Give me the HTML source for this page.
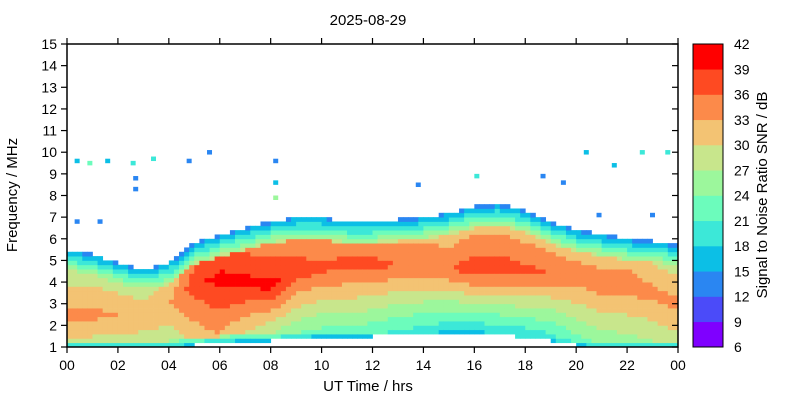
<!DOCTYPE html>
<html><head><meta charset="utf-8"><style>
body{margin:0;background:#fff;font-family:"Liberation Sans",sans-serif}
svg text{font-family:"Liberation Sans",sans-serif;fill:#000}
</style></head><body>
<svg id="c" width="800" height="400">
<text x="368" y="25" font-size="15" text-anchor="middle">2025-08-29</text>
<g id="cells"></g>
<g id="axes"></g>
<g id="cbar"></g>
<text x="368" y="391" font-size="15" text-anchor="middle">UT Time / hrs</text>
<text transform="translate(17,195) rotate(-90)" font-size="15" text-anchor="middle">Frequency / MHz</text>
<text transform="translate(767,195) rotate(-90)" font-size="15" text-anchor="middle">Signal to Noise Ratio SNR / dB</text>
</svg>
<script>
const hours=[0,1,2,3,4,5,6,7,8,9,10,11,12,13,14,15,16,17,18,19,20,21,22,23,24];
const topFreq=[5.5,5.3,4.9,4.6,4.9,5.8,6.2,6.5,6.8,7.0,7.0,6.8,6.8,6.9,7.0,7.2,7.5,7.6,7.3,6.8,6.4,6.2,6.0,5.9,5.7];
const lowFreq=[1,1,1,1,1,1.1,1.2,1.3,1.3,1.4,1.5,1.5,1.5,1.6,1.6,1.7,1.7,1.6,1.4,1.3,1.1,1,1,1,1];
const peakSNR=[34,34,33,32,33,38,40,40,40,38,37,37,37,36,36,36,38,38,37,36,35,35,35,34,34];
const peakFreq=[2.5,2.5,2.5,2.5,3,4,4.2,4,3.8,4.5,4.7,4.8,4.8,4.8,4.8,4.6,4.6,4.6,4.5,4.4,4.3,4,4,3.5,3];
const lowSNR=[28,28,28,28,27,30,32,28,25,23,22,22,21,20,19,18,18,18,18,19,22,24,25,26,28];
const sporadic=[[0.3,9.5,16],[0.8,9.4,22],[1.5,9.5,16],[2.5,9.4,18],[3.3,9.6,20],[4.7,9.5,14],[5.5,9.9,14],[2.6,8.7,14],[2.6,8.2,14],[0.3,6.7,14],[1.2,6.7,14],[8.1,9.5,14],[8.1,8.5,16],[8.1,7.8,24],[13.7,8.4,14],[16.0,8.8,20],[18.6,8.8,14],[20.3,9.9,16],[21.4,9.3,16],[22.5,9.9,20],[23.5,9.9,20],[20.8,7.0,14],[22.9,7.0,14],[19.4,8.5,14]];
const cbTicks=[6,9,12,15,18,21,24,27,30,33,36,39,42];
const cbColors=["#7f00ff","#4b4bf9","#2a86f2","#0cbfe6","#3ce8d8","#6cfcbc","#9cf79c","#c8e68c","#f3c373","#fc8a4a","#fe4a22","#ff0000"];
const X0=67,X1=678,Y0=347,Y1=44;
const xs=t=>X0+(X1-X0)*t/24, ys=f=>Y0-(Y0-Y1)*(f-1)/14;
const NS="http://www.w3.org/2000/svg";
function mk(tag,attrs,parent){const e=document.createElementNS(NS,tag);for(const k in attrs)e.setAttribute(k,attrs[k]);parent.appendChild(e);return e;}
function interp(arr,t){const i=Math.min(23,Math.floor(t));const r=t-i;return arr[i]*(1-r)+arr[i+1]*r;}
function col(v){let i=Math.floor((v-6)/3);i=Math.max(0,Math.min(11,i));return cbColors[i];}
const cells=document.getElementById('cells');
const dt=0.2,df=0.2;
for(let t=0;t<24-1e-9;t+=dt){
  const tc=t+dt/2,top=interp(topFreq,tc),low=interp(lowFreq,tc),pk=interp(peakSNR,tc),pf=interp(peakFreq,tc),ls=interp(lowSNR,tc);
  for(let f=1;f<15-1e-9;f+=df){
    const fc=f+df/2; if(fc>top||fc<low)continue;
    let v;
    if(fc<pf){const r=Math.max(0,(fc-low)/(pf-low));v=ls+(pk-ls)*r;}
    else v=pk-3*(fc-pf);
    if(top-fc<1.0)v=Math.min(v,14+(top-fc)/1.0*14);
    if(fc-low<0.3)v=Math.min(v,17+(fc-low)/0.3*8);
    const r=mk('rect',{x:xs(t).toFixed(2),y:ys(f+df).toFixed(2),width:(xs(dt)-X0+0.4).toFixed(2),height:(ys(1)-ys(1+df)+0.4).toFixed(2),fill:col(v)},cells);
    
    
  }
}
sporadic.forEach(p=>{const r=mk('rect',{x:xs(p[0]).toFixed(2),y:ys(p[1]+df).toFixed(2),width:5,height:4.5,fill:col(p[2])},cells);
  
  });
const ax=document.getElementById('axes');
mk('rect',{x:X0,y:Y1,width:X1-X0,height:Y0-Y1,fill:'none',stroke:'#000','stroke-width':1.5},ax);
for(let h=0;h<=24;h+=2){const x=xs(h);
  mk('line',{x1:x,x2:x,y1:Y0,y2:Y0+6,stroke:'#000','stroke-width':1.2},ax);
  mk('line',{x1:x,x2:x,y1:Y1,y2:Y1-6,stroke:'#000','stroke-width':1.2},ax);
  const tx=mk('text',{x:x,y:370,'font-size':14,'text-anchor':'middle'},ax);tx.textContent=String(h%24).padStart(2,'0');
  
  }
for(let f=1;f<=15;f++){const y=ys(f);
  mk('line',{x1:X0-6,x2:X0,y1:y,y2:y,stroke:'#000','stroke-width':1.2},ax);
  mk('line',{x1:X1-6,x2:X1,y1:y,y2:y,stroke:'#000','stroke-width':1.2},ax);
  const tx=mk('text',{x:57,y:y+5,'font-size':14,'text-anchor':'end'},ax);tx.textContent=f;
  
  }
const cb=document.getElementById('cbar');
const cy=v=>347-(347-44)*(v-6)/36;
cbColors.forEach((c,i)=>{const r=mk('rect',{x:693,y:cy(cbTicks[i+1]),width:30,height:cy(cbTicks[i])-cy(cbTicks[i+1])+0.3,fill:c},cb);
  
  });
mk('rect',{x:693,y:44,width:30,height:303,fill:'none',stroke:'#000','stroke-width':1},cb);
cbTicks.forEach(v=>{const tx=mk('text',{x:734,y:cy(v)+5,'font-size':14},cb);tx.textContent=v;
  
  });
</script>
</body></html>
